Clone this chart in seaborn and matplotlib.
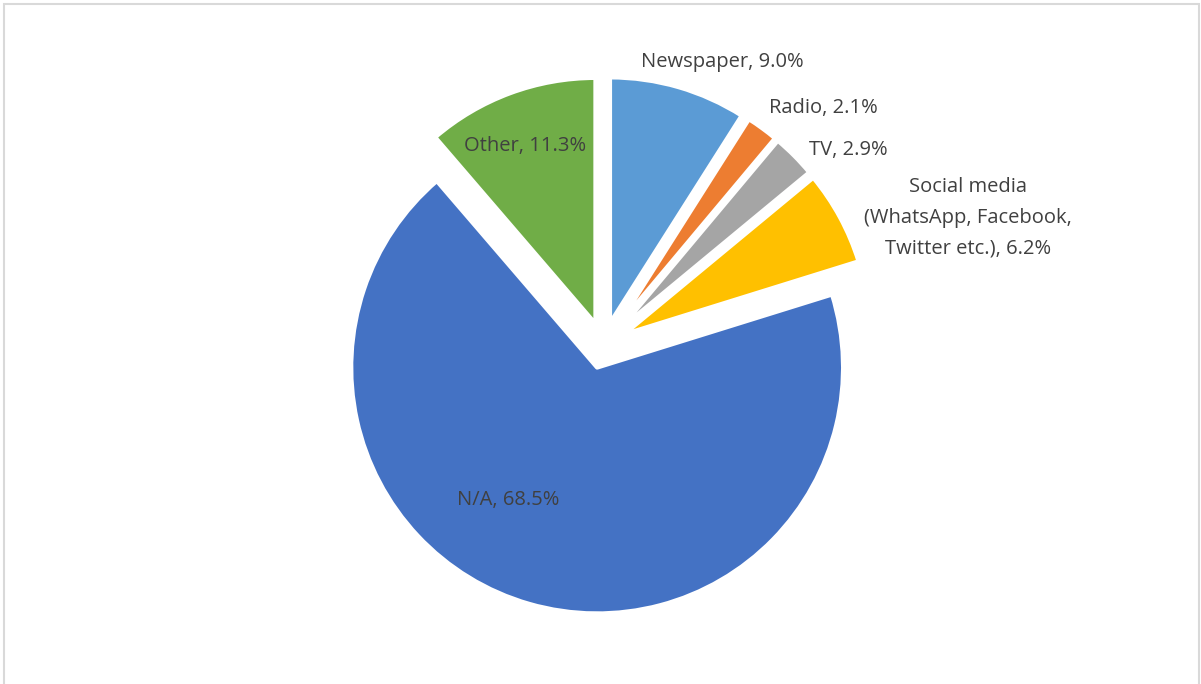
import matplotlib
matplotlib.use("Agg")
import matplotlib.pyplot as plt
from matplotlib.patches import Rectangle
import seaborn as sns

# Survey answers: source of information
categories = ["Newspaper", "Radio", "TV",
              "Social media\n(WhatsApp, Facebook,\nTwitter etc.)", "N/A", "Other"]
shares = [9.0, 2.1, 2.9, 6.2, 68.5, 11.3]

colors = ["#5B9BD5", "#ED7D31", "#A5A5A5", "#FFC000", "#4472C4", "#70AD47"]
# every wedge pulled out by the same distance (canvas units)
explode = [23] * len(shares)

# label anchors (canvas units, y measured downward)
label_pos = [(722, 62), (823, 108), (848, 150), (968, 218), (508, 500), (525, 146)]

sns.set_theme(style="white")
plt.rcParams["font.family"] = ["Open Sans", "DejaVu Sans"]

W, H = 1201, 684
fig = plt.figure(figsize=(W / 100, H / 100), dpi=100)
ax = fig.add_axes([0, 0, 1, 1])

R = 246
ax.pie(shares, colors=colors, explode=explode, startangle=90, counterclock=False,
       radius=R, center=(603.5, -345.4),
       wedgeprops=dict(linewidth=3.1, edgecolor="white", joinstyle="round",
                       antialiased=True),
       frame=True)

for name, val, (x, y) in zip(categories, shares, label_pos):
    ax.text(x, -y, f"{name}, {val:.1f}%", ha="center", va="center",
            fontsize=14.5, color="#404040", linespacing=1.7)

# thin chart-area border
ax.add_patch(Rectangle((4, -H - 20), 1195, H + 16, fill=False,
                       edgecolor="#D9D9D9", linewidth=1.5))

ax.set_xlim(0, W)
ax.set_ylim(-H, 0)
ax.set_aspect("equal", adjustable="box")
ax.axis("off")

fig.savefig("out.png", dpi=100, facecolor="white")
